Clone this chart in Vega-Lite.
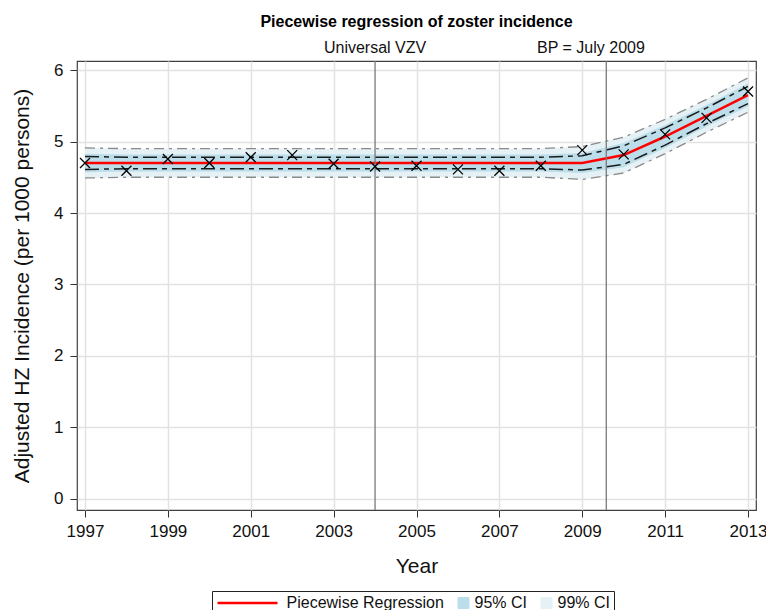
{
  "$schema": "https://vega.github.io/schema/vega-lite/v6.json",
  "width": 679,
  "height": 449,
  "autosize": {"type": "none"},
  "padding": {"left": 77, "top": 61, "right": 10, "bottom": 100},
  "title": {"text": "Piecewise regression of zoster incidence", "fontSize": 16, "fontWeight": "bold", "color": "#000000", "offset": 10},
  "config": {
    "font": "Liberation Sans",
    "view": {"stroke": "#404040", "strokeWidth": 1.2},
    "axis": {
      "domain": false,
      "gridColor": "#e2e2e2",
      "gridWidth": 1.5,
      "tickColor": "#333333",
      "tickSize": 7,
      "tickWidth": 1,
      "labelFontSize": 17,
      "labelColor": "#111111",
      "titleFontSize": 21,
      "titleFontWeight": "normal",
      "titleColor": "#111111"
    },
    "axisX": {"titlePadding": 16, "labelPadding": 6},
    "axisY": {"titlePadding": 21, "labelPadding": 7}
  },
  "datasets": {
    "main": [
      {"year": 1997, "obs": 4.70, "fit": 4.70, "dlo": 4.61, "dhi": 4.79, "blo": 4.57, "bhi": 4.83, "glo": 4.49, "ghi": 4.91},
      {"year": 1998, "obs": 4.59, "fit": 4.70, "dlo": 4.62, "dhi": 4.78, "blo": 4.58, "bhi": 4.82, "glo": 4.50, "ghi": 4.90},
      {"year": 1999, "obs": 4.755, "fit": 4.70, "dlo": 4.62, "dhi": 4.78, "blo": 4.58, "bhi": 4.82, "glo": 4.50, "ghi": 4.90},
      {"year": 2000, "obs": 4.70, "fit": 4.70, "dlo": 4.62, "dhi": 4.78, "blo": 4.58, "bhi": 4.82, "glo": 4.50, "ghi": 4.90},
      {"year": 2001, "obs": 4.78, "fit": 4.70, "dlo": 4.62, "dhi": 4.78, "blo": 4.58, "bhi": 4.82, "glo": 4.50, "ghi": 4.90},
      {"year": 2002, "obs": 4.81, "fit": 4.70, "dlo": 4.62, "dhi": 4.78, "blo": 4.58, "bhi": 4.82, "glo": 4.50, "ghi": 4.90},
      {"year": 2003, "obs": 4.69, "fit": 4.70, "dlo": 4.62, "dhi": 4.78, "blo": 4.58, "bhi": 4.82, "glo": 4.50, "ghi": 4.90},
      {"year": 2004, "obs": 4.65, "fit": 4.70, "dlo": 4.62, "dhi": 4.78, "blo": 4.58, "bhi": 4.82, "glo": 4.50, "ghi": 4.90},
      {"year": 2005, "obs": 4.66, "fit": 4.70, "dlo": 4.62, "dhi": 4.78, "blo": 4.58, "bhi": 4.82, "glo": 4.50, "ghi": 4.90},
      {"year": 2006, "obs": 4.61, "fit": 4.70, "dlo": 4.62, "dhi": 4.78, "blo": 4.58, "bhi": 4.82, "glo": 4.50, "ghi": 4.90},
      {"year": 2007, "obs": 4.59, "fit": 4.70, "dlo": 4.62, "dhi": 4.78, "blo": 4.58, "bhi": 4.82, "glo": 4.50, "ghi": 4.90},
      {"year": 2008, "obs": 4.66, "fit": 4.70, "dlo": 4.62, "dhi": 4.78, "blo": 4.58, "bhi": 4.82, "glo": 4.50, "ghi": 4.90},
      {"year": 2009, "obs": 4.88, "fit": 4.70, "dlo": 4.60, "dhi": 4.80, "blo": 4.56, "bhi": 4.84, "glo": 4.47, "ghi": 4.93},
      {"year": 2010, "obs": 4.82, "fit": 4.81, "dlo": 4.68, "dhi": 4.94, "blo": 4.64, "bhi": 4.98, "glo": 4.56, "ghi": 5.06},
      {"year": 2011, "obs": 5.10, "fit": 5.07, "dlo": 4.95, "dhi": 5.19, "blo": 4.91, "bhi": 5.23, "glo": 4.83, "ghi": 5.31},
      {"year": 2012, "obs": 5.33, "fit": 5.36, "dlo": 5.25, "dhi": 5.47, "blo": 5.21, "bhi": 5.51, "glo": 5.13, "ghi": 5.59},
      {"year": 2013, "obs": 5.70, "fit": 5.65, "dlo": 5.53, "dhi": 5.77, "blo": 5.49, "bhi": 5.81, "glo": 5.41, "ghi": 5.89}
    ],
    "refs": [
      {"year": 2004},
      {"year": 2009.58}
    ],
    "labels": [
      {"year": 2004, "pos": 6.31, "label": "Universal VZV"},
      {"year": 2009.21, "pos": 6.31, "label": "BP = July 2009"}
    ]
  },
  "encoding": {
    "x": {
      "field": "year",
      "type": "quantitative",
      "title": "Year",
      "scale": {"domain": [1996.807, 2013.193], "nice": false, "zero": false},
      "axis": {"values": [1997, 1999, 2001, 2003, 2005, 2007, 2009, 2011, 2013], "format": "d"}
    }
  },
  "layer": [
    {
      "data": {"name": "main"},
      "mark": {"type": "area"},
      "encoding": {
        "y": {"field": "glo", "type": "quantitative", "title": "Adjusted HZ Incidence (per 1000 persons)",
              "scale": {"domain": [-0.154, 6.126], "nice": false, "zero": false},
              "axis": {"values": [0, 1, 2, 3, 4, 5, 6], "format": "d"}},
        "y2": {"field": "ghi"},
        "color": {
          "datum": "99% CI",
          "scale": {"domain": ["Piecewise Regression", "95% CI", "99% CI"], "range": ["#ff0000", "#bcdeea", "#e6f1f6"]},
          "legend": {
            "title": null,
            "orient": "none",
            "legendX": 135,
            "legendY": 530,
            "direction": "horizontal",
            "strokeColor": "#222222",
            "padding": 4,
            "labelFontSize": 16,
            "labelColor": "#111111",
            "columnPadding": 12,
            "symbolSize": 121,
            "encoding": {
              "symbols": {
                "shape": {"value": {"expr": "datum.value === 'Piecewise Regression' ? 'stroke' : 'square'"}},
                "size": {"value": {"expr": "datum.value === 'Piecewise Regression' ? 3600 : 121"}},
                "x": {"value": {"expr": "datum.value === 'Piecewise Regression' ? 31.5 : 6.5"}},
                "fill": {"value": {"expr": "datum.value === 'Piecewise Regression' ? 'transparent' : (datum.value === '95% CI' ? '#bcdeea' : '#eef3f6')"}},
                "stroke": {"value": {"expr": "datum.value === 'Piecewise Regression' ? '#ff0000' : '#555555'"}},
                "strokeWidth": {"value": {"expr": "datum.value === 'Piecewise Regression' ? 2.5 : 1"}},
                "opacity": {"value": 1}
              },
              "labels": {
                "x": {"value": {"expr": "datum.value === 'Piecewise Regression' ? 70.5 : 17.5"}}
              }
            }
          }
        }
      }
    },
    {
      "data": {"name": "main"},
      "mark": {"type": "area"},
      "encoding": {
        "y": {"field": "blo", "type": "quantitative", "title": "Adjusted HZ Incidence (per 1000 persons)"},
        "y2": {"field": "bhi"},
        "color": {"datum": "95% CI"}
      }
    },
    {
      "data": {"name": "main"},
      "mark": {"type": "line", "stroke": "#8a8a8a", "strokeWidth": 1.3, "strokeDash": [10, 5, 3, 5]},
      "encoding": {"y": {"field": "ghi", "type": "quantitative", "title": "Adjusted HZ Incidence (per 1000 persons)"}}
    },
    {
      "data": {"name": "main"},
      "mark": {"type": "line", "stroke": "#8a8a8a", "strokeWidth": 1.3, "strokeDash": [10, 5, 3, 5]},
      "encoding": {"y": {"field": "glo", "type": "quantitative", "title": "Adjusted HZ Incidence (per 1000 persons)"}}
    },
    {
      "data": {"name": "main"},
      "mark": {"type": "line", "stroke": "#1a1a1a", "strokeWidth": 1.5, "strokeDash": [14, 5, 5, 5]},
      "encoding": {"y": {"field": "dhi", "type": "quantitative", "title": "Adjusted HZ Incidence (per 1000 persons)"}}
    },
    {
      "data": {"name": "main"},
      "mark": {"type": "line", "stroke": "#1a1a1a", "strokeWidth": 1.5, "strokeDash": [14, 5, 5, 5]},
      "encoding": {"y": {"field": "dlo", "type": "quantitative", "title": "Adjusted HZ Incidence (per 1000 persons)"}}
    },
    {
      "data": {"name": "main"},
      "mark": {"type": "line", "strokeWidth": 2.5},
      "encoding": {
        "y": {"field": "fit", "type": "quantitative", "title": "Adjusted HZ Incidence (per 1000 persons)"},
        "color": {"datum": "Piecewise Regression"}
      }
    },
    {
      "data": {"name": "refs"},
      "mark": {"type": "rule", "stroke": "#7a7a7a", "strokeWidth": 1.3},
      "encoding": {}
    },
    {
      "data": {"name": "main"},
      "mark": {"type": "point", "shape": "M-1,-1L1,1M-1,1L1,-1", "filled": false, "stroke": "#000000", "strokeWidth": 1.3, "size": 100, "opacity": 1},
      "encoding": {"y": {"field": "obs", "type": "quantitative", "title": "Adjusted HZ Incidence (per 1000 persons)"}}
    },
    {
      "data": {"name": "labels"},
      "mark": {"type": "text", "fontSize": 16, "color": "#111111", "baseline": "middle", "align": "center"},
      "encoding": {
        "y": {"field": "pos", "type": "quantitative", "title": "Adjusted HZ Incidence (per 1000 persons)"},
        "text": {"field": "label"}
      }
    }
  ]
}
